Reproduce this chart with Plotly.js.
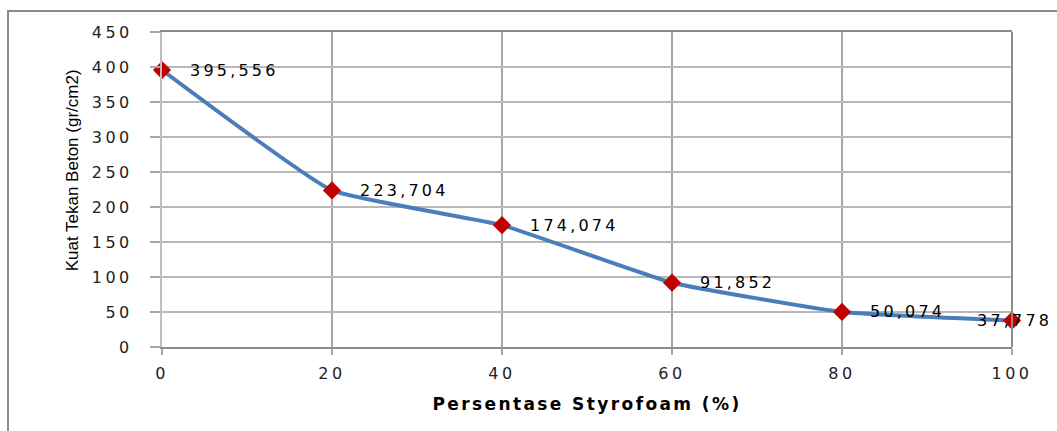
<!DOCTYPE html>
<html>
<head>
<meta charset="utf-8">
<script src="https://cdn.plot.ly/plotly-3.0.1.min.js"></script>
<style>
  html, body { margin: 0; padding: 0; background: #fff; }
  #chart { width: 1057px; height: 431px; }
  #frame { position: absolute; left: 7px; top: 10px; width: 1100px; height: 500px;
           border-left: 2px solid #8c8c8c; border-top: 2px solid #8c8c8c; pointer-events: none; }
  .xtick text, .ytick text { letter-spacing: 3.5px; }
  .annotation-text[data-unformatted*=","] { letter-spacing: 3.2px; }
  .g-xtitle text { letter-spacing: 2.4px; }
</style>
</head>
<body>
<div id="chart"></div>
<div id="frame"></div>
<script>
const styrofoam = [0, 20, 40, 60, 80, 100];
const kuatTekan = [395.556, 223.704, 174.074, 91.852, 50.074, 37.778];
const dataLabels = ["395,556", "223,704", "174,074", "91,852", "50,074", "37,778"];
const xTicks = [0, 20, 40, 60, 80, 100];
const yTicks = [0, 50, 100, 150, 200, 250, 300, 350, 400, 450];

const trace = {
  x: styrofoam, y: kuatTekan, type: 'scatter', mode: 'lines+markers',
  line: { color: '#4a7ebb', width: 4, shape: 'spline', smoothing: 0.35 },
  marker: { symbol: 'diamond', size: 14, color: '#c00000' },
  hoverinfo: 'skip', cliponaxis: false
};

const annotations = styrofoam.map((x, i) => {
  const last = i === styrofoam.length - 1;
  return {
    x: x, y: kuatTekan[i], xref: 'x', yref: 'y', text: dataLabels[i], showarrow: false,
    xanchor: last ? 'center' : 'left', xshift: last ? 2 : 26, yshift: 0,
    font: { family: 'DejaVu Sans, Verdana, sans-serif', size: 16, color: '#000' }
  };
});
annotations.push({
  x: -0.105, y: 0.56, xref: 'paper', yref: 'paper', text: 'Kuat Tekan Beton (gr/cm2)',
  showarrow: false, textangle: -90, xanchor: 'center', yanchor: 'middle',
  font: { family: 'Liberation Sans Narrow, Arial Narrow, Liberation Sans, sans-serif', size: 17, color: '#000' }
});

const layout = {
  width: 1057, height: 431,
  margin: { l: 162, r: 45, t: 32, b: 84 },
  paper_bgcolor: '#fff', plot_bgcolor: '#fff',
  showlegend: false,
  xaxis: {
    range: [0, 100], tickvals: xTicks, ticktext: xTicks.map(String),
    showgrid: true, gridcolor: '#a6a6a6', gridwidth: 2,
    showline: true, linecolor: '#8c8c8c', linewidth: 2, mirror: true,
    ticks: 'outside', ticklen: 6, tickcolor: '#a6a6a6', tickwidth: 2,
    ticklabelstandoff: 5, zeroline: false,
    tickfont: { family: 'DejaVu Sans, Verdana, sans-serif', size: 16, color: '#222' },
    title: { text: 'Persentase Styrofoam (%)', standoff: 16,
      font: { family: 'DejaVu Sans, Verdana, sans-serif', size: 17, color: '#000', weight: 'bold' } }
  },
  yaxis: {
    range: [0, 450], tickvals: yTicks, ticktext: yTicks.map(String),
    showgrid: true, gridcolor: '#b8b8b8', gridwidth: 2,
    showline: true, linecolor: '#bfbfbf', linewidth: 2, mirror: false,
    ticks: 'outside', ticklen: 10, tickcolor: '#a6a6a6', tickwidth: 2,
    ticklabelstandoff: 14, zeroline: false,
    tickfont: { family: 'DejaVu Sans, Verdana, sans-serif', size: 16, color: '#222' }
  },
  shapes: [
    { type: 'line', xref: 'paper', yref: 'paper', x0: 1, x1: 1, y0: 0, y1: 1,
      line: { color: '#8c8c8c', width: 2 } }
  ],
  annotations: annotations
};

Plotly.newPlot('chart', [trace], layout, { displayModeBar: false, staticPlot: true });
</script>
</body>
</html>
